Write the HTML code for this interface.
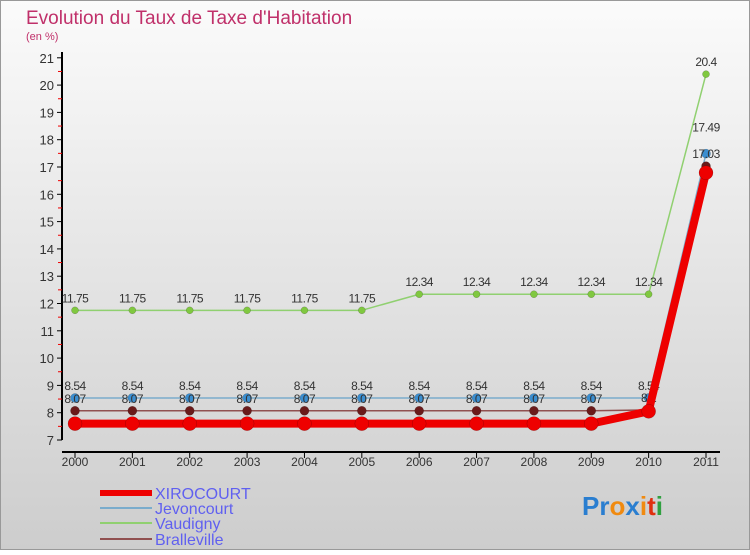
<!DOCTYPE html>
<html><head><meta charset="utf-8"><style>
body{margin:0;width:750px;height:550px;overflow:hidden;font-family:"Liberation Sans",sans-serif}
</style></head><body>
<svg width="750" height="550" xmlns="http://www.w3.org/2000/svg">
<defs><linearGradient id="bg" x1="0" y1="0" x2="0" y2="1"><stop offset="0" stop-color="#fbfbfb"/><stop offset="1" stop-color="#cdcdcd"/></linearGradient></defs>
<rect x="0.5" y="0.5" width="749" height="549" fill="url(#bg)" stroke="#999"/>
<text x="26" y="24" font-size="19" fill="#c0306a">Evolution du Taux de Taxe d'Habitation</text>
<text x="26" y="40" font-size="11" fill="#c0306a">(en %)</text>
<g id="axes"></g>
<g id="series"></g>
<g id="legend" font-size="16" fill="#6060f0">
<rect x="100" y="490" width="52" height="6" fill="#e00"/>
<text x="155" y="499">XIROCOURT</text>
<rect x="100" y="507" width="52" height="2" fill="#7aaccc"/>
<text x="155" y="514">Jevoncourt</text>
<rect x="100" y="522" width="52" height="2" fill="#90d070"/>
<text x="155" y="529">Vaudigny</text>
<rect x="100" y="538" width="52" height="2" fill="#905050"/>
<text x="155" y="545">Bralleville</text>
</g>
<text x="582" y="515" font-size="26" font-weight="bold"><tspan fill="#2a7ed0">Pr</tspan><tspan fill="#f08a10">o</tspan><tspan fill="#2a7ed0">x</tspan><tspan fill="#f08a10">i</tspan><tspan fill="#e03010">t</tspan><tspan fill="#30a040">i</tspan></text>
</svg>
<script>
const years=[2000,2001,2002,2003,2004,2005,2006,2007,2008,2009,2010,2011];
const yTicks=[7,8,9,10,11,12,13,14,15,16,17,18,19,20,21];
const xirocourt=[7.6,7.6,7.6,7.6,7.6,7.6,7.6,7.6,7.6,7.6,8.05,16.79];
const jevoncourt=[8.54,8.54,8.54,8.54,8.54,8.54,8.54,8.54,8.54,8.54,8.54,17.49];
const vaudigny=[11.75,11.75,11.75,11.75,11.75,11.75,12.34,12.34,12.34,12.34,12.34,20.4];
const bralleville=[8.07,8.07,8.07,8.07,8.07,8.07,8.07,8.07,8.07,8.07,8.1,17.03];
const NS="http://www.w3.org/2000/svg";
function X(i){return 75+i*(706-75)/11;}
function Y(v){return 440-(v-7)*27.3;}
function mk(tag,attrs,parent){const e=document.createElementNS(NS,tag);for(const k in attrs)e.setAttribute(k,attrs[k]);parent.appendChild(e);return e;}
const ax=document.getElementById('axes');
let yl=mk('line',{x1:62,y1:52,x2:62,y2:440,stroke:'#000','stroke-width':2},ax);


let xl=mk('line',{x1:62,y1:452,x2:720,y2:452,stroke:'#000','stroke-width':2},ax);


yTicks.forEach((t,i)=>{
  mk('line',{x1:57,y1:Y(t),x2:62,y2:Y(t),stroke:'#000'},ax);
  if(i<yTicks.length-1) mk('line',{x1:58,y1:Y(t+0.5),x2:62,y2:Y(t+0.5),stroke:'#e00'},ax);
  const tx=mk('text',{x:54,y:Y(t)+5,'font-size':13,'text-anchor':'end',fill:'#333'},ax);
  tx.textContent=t;
  
  
});
years.forEach((yr,i)=>{
  mk('line',{x1:X(i),y1:452,x2:X(i),y2:458,stroke:'#000'},ax);
  const tx=mk('text',{x:X(i),y:466,'font-size':12,'text-anchor':'middle',fill:'#333'},ax);
  tx.textContent=yr;
  
  
});
const sg=document.getElementById('series');
function draw(vals,name,color,w,r,ptColor,labels){
  const g=mk('g',{},sg);
  
  
  const p=mk('polyline',{points:vals.map((v,i)=>X(i)+','+Y(v)).join(' '),fill:'none',stroke:color,'stroke-width':w,'stroke-linejoin':'round'},g);
  
  
  vals.forEach((v,i)=>{
    const c=mk('circle',{cx:X(i),cy:Y(v),r:r,fill:ptColor,stroke:'rgba(0,0,0,0.3)','stroke-width':0.5},g);
    
    
    if(labels){
      const t=mk('text',{x:X(i),y:Y(v)-(i==11&&name=='jevoncourt'?22:8),'font-size':12,'text-anchor':'middle',fill:'#333','letter-spacing':'-0.5'},g);
      t.textContent=v;
      
      
    }
  });
}
draw(vaudigny,'vaudigny','#90d070',1.5,3.5,'#80c840',true);
draw(jevoncourt,'jevoncourt','#7aaccc',1.5,4.5,'#3a8ed0',true);
draw(bralleville,'bralleville','#905050',1.5,4.5,'#6a1a1a',true);
draw(xirocourt,'xirocourt','#e00',8,7,'#e00',false);
</script>
</body></html>
